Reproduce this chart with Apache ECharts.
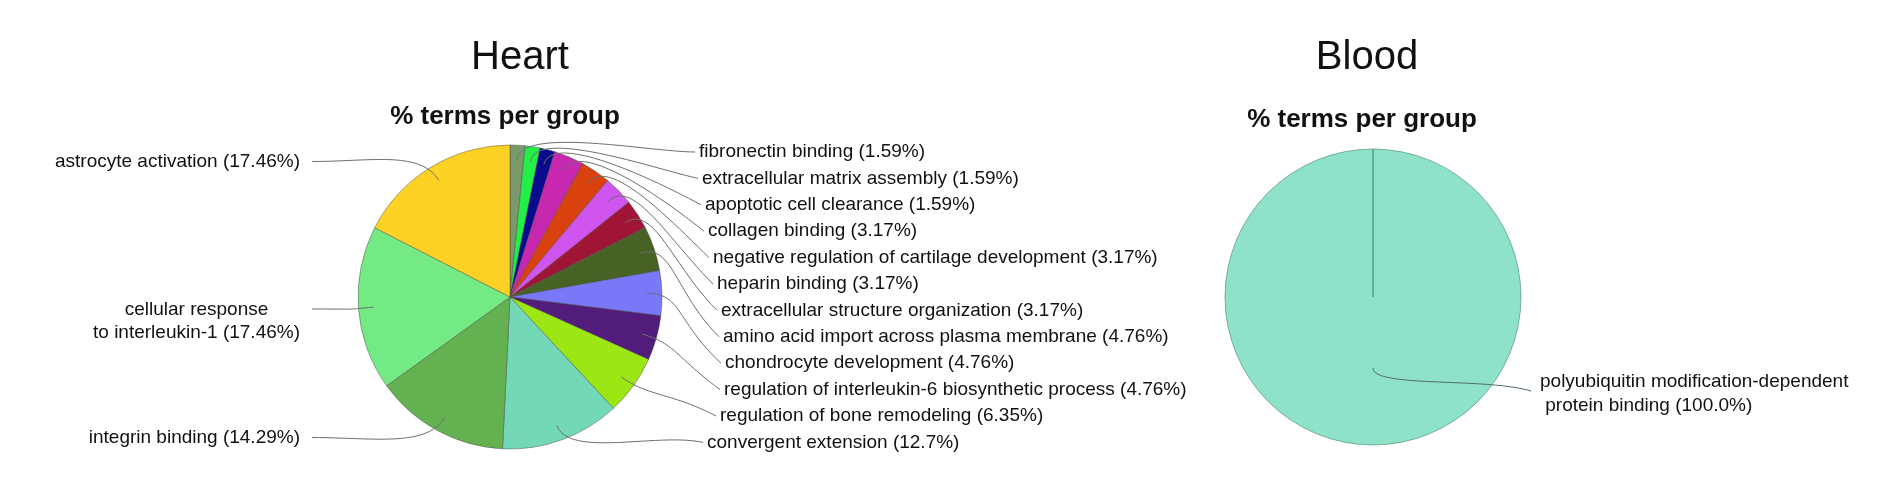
<!DOCTYPE html>
<html>
<head>
<meta charset="utf-8">
<title>% terms per group</title>
<script src="https://cdn.jsdelivr.net/npm/echarts@6/dist/echarts.min.js"></script>
<style>
  html, body { margin: 0; padding: 0; background: #fff; }
  #main { width: 1884px; height: 490px; }
</style>
</head>
<body>
<div id="main"></div>
<script>
// Heart terms, clockwise from 12 o'clock
var heartTerms = [
    'fibronectin binding',
    'extracellular matrix assembly',
    'apoptotic cell clearance',
    'collagen binding',
    'negative regulation of cartilage development',
    'heparin binding',
    'extracellular structure organization',
    'amino acid import across plasma membrane',
    'chondrocyte development',
    'regulation of interleukin-6 biosynthetic process',
    'regulation of bone remodeling',
    'convergent extension',
    'integrin binding',
    'cellular response\nto interleukin-1',
    'astrocyte activation'
];
var heartPercent = [1.59, 1.59, 1.59, 3.17, 3.17, 3.17, 3.17, 4.76, 4.76, 4.76, 6.35, 12.7, 14.29, 17.46, 17.46];
var heartColors = ['#7a9a6a', '#22f046', '#0a0a8e', '#c828b0', '#d9420e', '#d055ee', '#a01535',
    '#476224', '#7878f8', '#521c7c', '#9ce614', '#72d8b8', '#63b150', '#74ea84', '#fdd224'];

// Blood terms
var bloodTerms = ['polyubiquitin modification-dependent\n protein binding'];
var bloodPercent = [100.0];
var bloodColors = ['#8ee2ca'];

// layout (pixels)
var heartCenter = [510, 297], heartRadius = 152;
var bloodCenter = [1373, 297], bloodRadius = 148;
var heartRightX = [699, 702, 705, 708, 713, 717, 721, 723, 725, 724, 720, 707];
var heartLeftY = [438, 321, 162];
var font = "'Liberation Sans', Arial, Helvetica, sans-serif";

var myChart = echarts.init(document.getElementById('main'));

function bezier(p0, p1, p2, p3, n) {
    var out = [];
    for (var k = 0; k <= n; k++) {
        var t = k / n, u = 1 - t;
        out.push([
            u * u * u * p0[0] + 3 * u * u * t * p1[0] + 3 * u * t * t * p2[0] + t * t * t * p3[0],
            u * u * u * p0[1] + 3 * u * u * t * p1[1] + 3 * u * t * t * p2[1] + t * t * t * p3[1]
        ]);
    }
    return out;
}

// label line starts inside the slice, leaves along the mid angle, ends at the label
function makeLayout(center, radius, startFrac, k1, place) {
    return function (params) {
        var pts = params.labelLinePoints;
        if (!pts) return {};
        var dx = pts[0][0] - center[0], dy = pts[0][1] - center[1];
        var len = Math.sqrt(dx * dx + dy * dy) || 1;
        var ux = dx / len, uy = dy / len;
        var s = [center[0] + ux * radius * startFrac, center[1] + uy * radius * startFrac];
        var p = place(params);
        var c1 = [s[0] + ux * k1, s[1] + uy * k1];
        var drop = p.side > 0 ? Math.min(Math.max(p.end[1] - s[1], 0) * 0.6, 45) : 0;
        var c2 = [p.end[0] - p.side * (p.side > 0 ? 45 : 60), p.end[1] - drop];
        return {
            x: p.x, y: p.y, align: p.align, verticalAlign: 'middle',
            labelLinePoints: bezier(s, c1, c2, p.end, 24)
        };
    };
}

var heartPlace = function (params) {
    var i = params.dataIndex;
    var w = params.labelRect.width, h = params.labelRect.height;
    if (i < heartRightX.length) {
        var y = 152 + i * 26.4, x = heartRightX[i];
        return { x: x, y: y, align: 'left', end: [x - 4, y], side: 1 };
    }
    var ly = heartLeftY[i - heartRightX.length];
    var right = 300;
    return { x: right - w / 2, y: ly, align: 'center', end: [right + 12, ly - (h / 2 - 11)], side: -1 };
};

var bloodPlace = function (params) {
    return { x: 1540, y: 394, align: 'left', end: [1531, 391], side: 1 };
};

function pieData(names, values, colors) {
    return names.map(function (n, i) {
        return { name: n, value: values[i], itemStyle: { color: colors[i] } };
    });
}

var labelStyle = {
    show: true,
    position: 'outside',
    fontFamily: font,
    fontSize: 19,
    lineHeight: 23,
    color: '#111'
};

var option = {
    animation: false,
    backgroundColor: '#ffffff',
    title: [
        { text: 'Heart', left: 520, top: 38, textAlign: 'center', padding: 0,
          textStyle: { fontFamily: font, fontSize: 40, fontWeight: 'normal', color: '#111' } },
        { text: '% terms per group', left: 505, top: 104, textAlign: 'center', padding: 0,
          textStyle: { fontFamily: font, fontSize: 26, fontWeight: 'bold', color: '#111' } },
        { text: 'Blood', left: 1367, top: 38, textAlign: 'center', padding: 0,
          textStyle: { fontFamily: font, fontSize: 40, fontWeight: 'normal', color: '#111' } },
        { text: '% terms per group', left: 1362, top: 107, textAlign: 'center', padding: 0,
          textStyle: { fontFamily: font, fontSize: 26, fontWeight: 'bold', color: '#111' } }
    ],
    series: [
        {
            // Heart pie
            type: 'pie',
            z: 2,
            silent: true,
            center: heartCenter,
            radius: heartRadius,
            startAngle: 90,
            clockwise: true,
            avoidLabelOverlap: false,
            label: { show: false },
            labelLine: { show: false },
            itemStyle: { borderColor: 'rgba(70,70,70,0.45)', borderWidth: 1 },
            data: pieData(heartTerms, heartPercent, heartColors)
        },
        {
            // Heart labels drawn above the pie
            type: 'pie',
            z: 3,
            silent: true,
            center: heartCenter,
            radius: heartRadius,
            startAngle: 90,
            clockwise: true,
            avoidLabelOverlap: false,
            itemStyle: { color: 'rgba(0,0,0,0)', borderWidth: 0 },
            label: Object.assign({}, labelStyle, {
                formatter: function (p) { return p.name + ' (' + p.value + '%)'; }
            }),
            labelLine: { show: true, length: 10, length2: 10, smooth: false,
                lineStyle: { color: '#6f6f6f', width: 1 } },
            labelLayout: makeLayout(heartCenter, heartRadius, 0.9, 35, heartPlace),
            data: heartTerms.map(function (n, i) { return { name: n, value: heartPercent[i] }; })
        },
        {
            // Blood pie; the zero item only draws the slice edge at 12 o'clock
            type: 'pie',
            z: 2,
            silent: true,
            center: bloodCenter,
            radius: bloodRadius,
            startAngle: 90,
            clockwise: true,
            avoidLabelOverlap: false,
            label: { show: false },
            labelLine: { show: false },
            itemStyle: { borderColor: 'rgba(60,120,100,0.55)', borderWidth: 1 },
            data: pieData(bloodTerms, bloodPercent, bloodColors).concat([
                { name: '', value: 0, itemStyle: { color: bloodColors[0], borderColor: 'rgba(60,120,100,0.55)' } }
            ])
        },
        {
            // Blood label
            type: 'pie',
            z: 3,
            silent: true,
            center: bloodCenter,
            radius: bloodRadius,
            startAngle: 90,
            clockwise: true,
            avoidLabelOverlap: false,
            itemStyle: { color: 'rgba(0,0,0,0)', borderWidth: 0 },
            label: Object.assign({}, labelStyle, {
                lineHeight: 24,
                formatter: function (p) { return p.name + ' (' + p.value.toFixed(1) + '%)'; }
            }),
            labelLine: { show: true, length: 10, length2: 10, smooth: false,
                lineStyle: { color: '#4f6f66', width: 1 } },
            labelLayout: makeLayout(bloodCenter, bloodRadius, 0.48, 20, bloodPlace),
            data: bloodTerms.map(function (n, i) { return { name: n, value: bloodPercent[i] }; })
        }
    ]
};

myChart.setOption(option);
</script>
</body>
</html>
